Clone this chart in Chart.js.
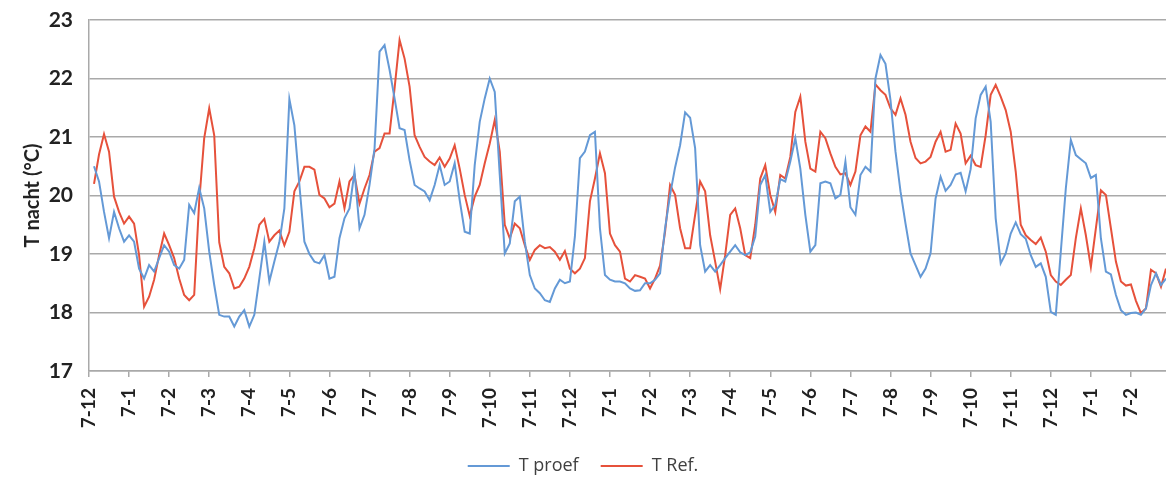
<!DOCTYPE html>
<html>
<head>
<meta charset="utf-8">
<script src="https://cdn.jsdelivr.net/npm/chart.js@4.4.1/dist/chart.umd.min.js"></script>
<style>
  html, body { margin: 0; padding: 0; background: #ffffff; }
  #wrap { width: 1166px; height: 479px; position: relative; }
</style>
</head>
<body>
<div id="wrap"><canvas id="chart"></canvas></div>
<script>
// Day labels along the time axis, one every SAMPLES_PER_LABEL readings
const tickLabels = ['7-12','7-1','7-2','7-3','7-4','7-5','7-6','7-7','7-8','7-9','7-10','7-11',
                    '7-12','7-1','7-2','7-3','7-4','7-5','7-6','7-7','7-8','7-9','7-10','7-11',
                    '7-12','7-1','7-2'];
const SAMPLES_PER_LABEL = 8;

// Night temperature of the test compartment (°C)
const tProef = [null,
  20.5,20.24,19.72,19.27,19.72,19.44,19.21,19.32,19.21,18.75,18.58,18.81,18.7,18.93,19.15,19.04,18.81,18.75,18.9,
  19.84,19.7,20.13,19.78,19.04,18.47,17.96,17.93,17.93,17.76,17.93,18.04,17.76,17.96,18.58,19.21,18.53,18.87,19.2,
  19.78,21.65,21.2,20.18,19.21,19.0,18.87,18.84,18.98,18.58,18.61,19.27,19.61,19.78,20.41,19.44,19.67,20.18,20.8,
  22.46,22.57,22.15,21.66,21.15,21.12,20.6,20.18,20.12,20.07,19.92,20.18,20.52,20.18,20.24,20.55,19.92,19.38,
  19.35,20.52,21.26,21.66,22.0,21.77,20.35,19.01,19.18,19.9,19.98,19.21,18.64,18.41,18.33,18.21,18.18,18.41,18.56,
  18.5,18.53,19.3,20.64,20.75,21.03,21.09,19.44,18.64,18.56,18.53,18.53,18.5,18.41,18.37,18.38,18.5,18.5,18.56,
  18.67,19.44,20.01,20.48,20.86,21.42,21.33,20.81,19.15,18.7,18.81,18.7,18.81,18.93,19.04,19.15,19.03,18.98,19.03,
  19.3,20.18,20.35,19.72,19.84,20.28,20.24,20.58,20.98,20.46,19.67,19.04,19.15,20.21,20.24,20.21,19.95,20.01,20.58,
  19.8,19.67,20.35,20.49,20.41,22.0,22.4,22.25,21.63,20.75,20.07,19.52,19.01,18.81,18.61,18.75,19.01,19.95,20.32,
  20.08,20.18,20.36,20.39,20.07,20.45,21.32,21.72,21.86,21.26,19.61,18.84,19.01,19.35,19.54,19.34,19.26,18.98,18.78,
  18.84,18.61,18.01,17.96,19.04,20.12,20.95,20.69,20.62,20.55,20.3,20.35,19.27,18.7,18.65,18.3,18.04,17.96,17.99,
  18.0,17.96,18.07,18.47,18.67,18.47,18.58];

// Night temperature of the reference compartment (°C)
const tRef = [null,
  20.2,20.7,21.05,20.75,19.98,19.72,19.52,19.64,19.52,18.98,18.1,18.27,18.56,18.98,19.35,19.15,18.93,18.58,18.3,
  18.21,18.3,19.9,20.98,21.49,21.03,19.2,18.78,18.67,18.41,18.44,18.58,18.78,19.1,19.5,19.6,19.21,19.32,19.4,
  19.15,19.38,20.07,20.24,20.49,20.49,20.44,20.01,19.95,19.8,19.86,20.24,19.78,20.24,20.35,19.86,20.12,20.35,20.75,
  20.81,21.06,21.06,21.83,22.66,22.34,21.86,21.03,20.83,20.66,20.58,20.52,20.65,20.49,20.63,20.86,20.46,20.01,
  19.65,19.98,20.18,20.55,20.89,21.29,20.75,19.5,19.27,19.52,19.44,19.15,18.9,19.07,19.15,19.1,19.12,19.04,18.9,
  19.05,18.75,18.67,18.75,18.93,19.9,20.29,20.72,20.38,19.35,19.15,19.04,18.58,18.53,18.64,18.61,18.58,18.41,18.58,
  18.8,19.38,20.18,20.01,19.44,19.1,19.1,19.67,20.24,20.07,19.32,18.87,18.4,18.98,19.67,19.78,19.44,18.98,18.93,
  19.5,20.29,20.52,20.01,19.72,20.35,20.29,20.66,21.43,21.69,20.92,20.46,20.41,21.09,20.98,20.72,20.49,20.36,20.38,
  20.18,20.41,21.03,21.18,21.09,21.9,21.8,21.72,21.49,21.38,21.66,21.38,20.92,20.64,20.55,20.58,20.66,20.92,21.09,
  20.75,20.78,21.23,21.06,20.55,20.68,20.52,20.49,21.03,21.72,21.89,21.69,21.46,21.09,20.41,19.5,19.32,19.24,19.17,
  19.28,19.04,18.64,18.53,18.47,18.56,18.64,19.27,19.78,19.32,18.78,19.44,20.09,20.01,19.44,18.87,18.53,18.46,18.48,
  18.2,17.99,18.07,18.73,18.67,18.44,18.75];

// One category per reading; only every SAMPLES_PER_LABEL-th one carries a day label
const categories = tProef.map((_, i) =>
  i % SAMPLES_PER_LABEL === 0 ? (tickLabels[i / SAMPLES_PER_LABEL] || '') : '');

const FONT = 'Lato, "Open Sans", "Liberation Sans", sans-serif';
const GRID = '#a9a9a9';
const LEGEND_HEIGHT = 44;

// Keeps the legend strip at a fixed height so the item gap does not grow it
const fixedLegendHeight = {
  id: 'fixedLegendHeight',
  afterInit(chart) {
    const legend = chart.legend;
    if (!legend) return;
    const baseFit = legend.fit.bind(legend);
    legend.fit = function () {
      baseFit();
      this.height = LEGEND_HEIGHT;
    };
  }
};

new Chart(document.getElementById('chart'), {
  type: 'line',
  data: {
    labels: categories,
    datasets: [
      { label: 'T proef', data: tProef, borderColor: '#6499d6', backgroundColor: '#6499d6',
        borderWidth: 2, pointRadius: 0, tension: 0, spanGaps: false },
      { label: 'T Ref.', data: tRef, borderColor: '#e6513b', backgroundColor: '#e6513b',
        borderWidth: 2, pointRadius: 0, tension: 0, spanGaps: false }
    ]
  },
  plugins: [fixedLegendHeight],
  options: {
    responsive: true,
    maintainAspectRatio: false,
    animation: false,
    layout: { padding: { left: 0, right: 0, top: 20, bottom: 0 } },
    plugins: {
      tooltip: { enabled: false },
      legend: {
        position: 'bottom',
        labels: {
          usePointStyle: true,
          pointStyle: 'line',
          pointStyleWidth: 42,
          padding: 22,
          color: '#404040',
          font: { family: '"Open Sans", Lato, sans-serif', size: 18 }
        }
      }
    },
    scales: {
      x: {
        type: 'category',
        offset: false,
        grid: { display: true, drawOnChartArea: false, drawTicks: true, tickLength: 6, color: GRID, lineWidth: 1.5 },
        border: { display: true, color: GRID, width: 1.5 },
        ticks: {
          autoSkip: false,
          maxRotation: 90,
          minRotation: 90,
          padding: 11,
          color: '#222222',
          font: { family: FONT, size: 19, weight: 'bold' },
          callback: (value, index) => categories[index] ? categories[index] : null
        },
        afterFit: (scale) => {
          scale.height = 64;
          scale.paddingLeft = 0; scale.paddingRight = 0;
          scale.paddingTop = 0; scale.paddingBottom = 0;
        }
      },
      y: {
        min: 17,
        max: 23,
        grid: { color: GRID, lineWidth: 1.5, drawTicks: false },
        border: { display: true, color: GRID, width: 1.5 },
        ticks: {
          stepSize: 1,
          padding: 16,
          color: '#222222',
          font: { family: FONT, size: 21, weight: 'bold' }
        },
        title: {
          display: true,
          text: 'T nacht (°C)',
          color: '#222222',
          font: { family: FONT, size: 20, weight: 'bold' },
          padding: { top: 21, bottom: 0 }
        },
        afterFit: (scale) => {
          scale.width = 89;
          scale.paddingTop = 0; scale.paddingBottom = 0;
        }
      }
    }
  }
});
</script>
</body>
</html>
